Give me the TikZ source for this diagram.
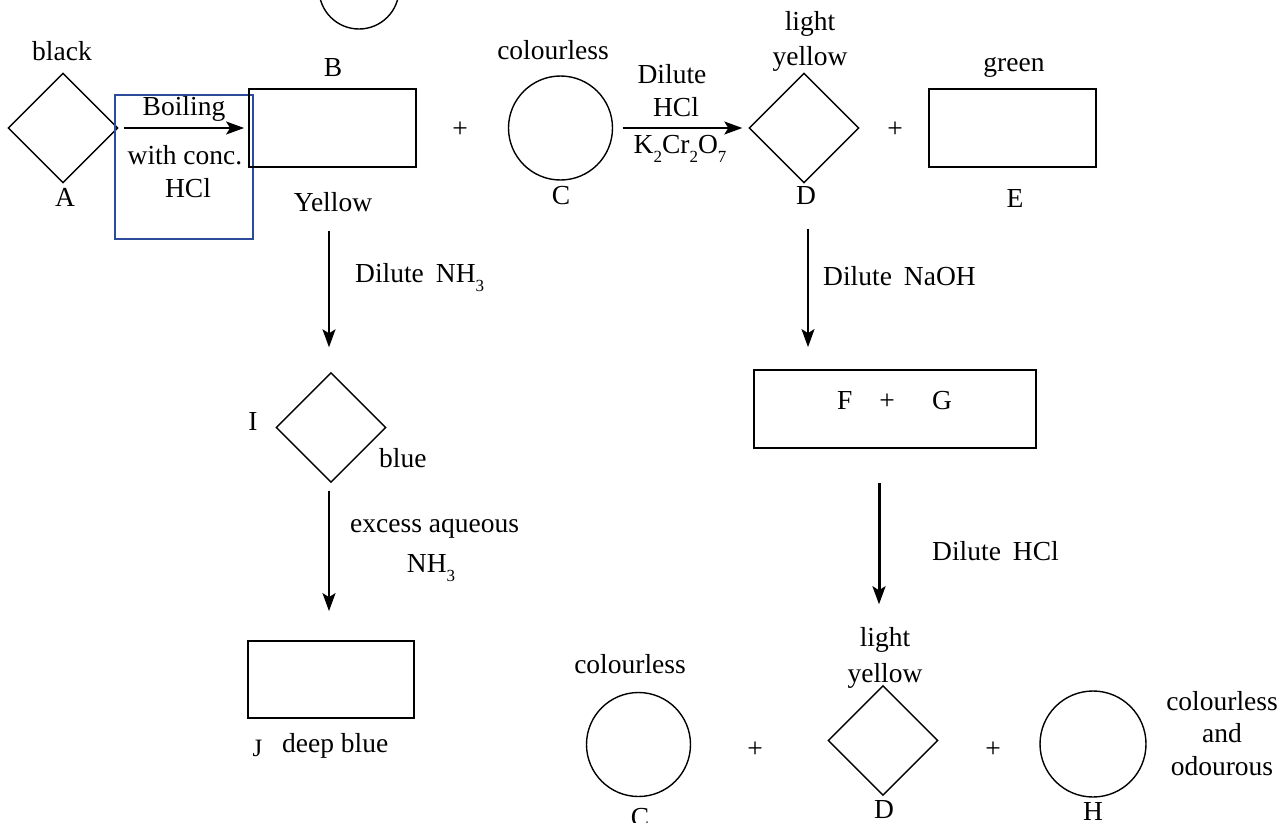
\documentclass[tikz,border=0pt]{standalone}
\usepackage{fontspec}
\setmainfont{Liberation Serif}
\usetikzlibrary{shapes.geometric,arrows.meta}
\definecolor{boxblue}{RGB}{45,75,155}
\newcommand{\chsb}[1]{\raisebox{-9pt}{\fontsize{17}{17}\selectfont #1}}
\newcommand{\wsp}{\hspace{12pt}}
\begin{document}
\begin{tikzpicture}[x=1pt,y=-1pt,
  every node/.style={font=\fontsize{27.5}{33}\selectfont},
  lbl/.style={inner sep=0pt, anchor=base},
  lblw/.style={inner sep=0pt, anchor=base west},
  dia/.style={draw, diamond, minimum width=110pt, minimum height=110pt, inner sep=0pt, line width=1.4pt},
  circ/.style={draw, circle, minimum size=104pt, inner sep=0pt, line width=1.4pt},
  box/.style={draw, rectangle, inner sep=0pt, line width=1.8pt},
  arr/.style={-{Stealth[length=18pt,width=13pt,inset=4pt]}, line width=1.8pt},
  thickarr/.style={arr, line width=3pt},
]
\clip (0,0) rectangle (1282,822);
\fill[white] (0,0) rectangle (1282,822);
% shapes
\node[circ, minimum size=80pt] (top) at (359,-11) {};
\node[dia] (A) at (63,128) {};
\node[draw=boxblue, line width=2pt, minimum width=138pt, minimum height=144pt, inner sep=0pt] (hl) at (184,167) {};
\node[box, minimum width=167pt, minimum height=78pt] (B) at (332.5,128) {};
\node[circ] (C) at (560.5,128) {};
\node[dia] (D) at (804,128) {};
\node[box, minimum width=167pt, minimum height=78pt] (E) at (1012.5,128) {};
\node[dia] (I) at (331,427.5) {};
\node[box, minimum width=166pt, minimum height=77pt] (J) at (331,679.5) {};
\node[box, minimum width=282pt, minimum height=78pt] (FG) at (895,409) {};
\node[circ] (C2) at (638.5,744.5) {};
\node[dia] (D2) at (883,740.5) {};
\node[circ, minimum size=106pt] (H) at (1093,744) {};
% arrows
\draw[arr, shorten <=5pt, shorten >=4pt] (A.east) -- (B.west);
\draw[arr, shorten <=9.5pt, shorten >=6pt] (C.east) -- (D.west);
\draw[arr, shorten <=63pt, shorten >=24.5pt] ([xshift=-3.5pt]B.south) -- ([xshift=-3.5pt]B.south |- I.north);
\draw[arr, shorten <=7.5pt, shorten >=29pt] ([xshift=-2pt]I.south) -- ([xshift=-2pt]I.south |- J.north);
\draw[arr, shorten <=45pt, shorten >=22pt] ([xshift=4pt]D.south) -- ([xshift=4pt]D.south |- FG.north);
\draw[thickarr, shorten <=34pt, shorten >=80.5pt] ([xshift=-16pt]FG.south) -- ([xshift=-16pt]FG.south |- D2.north);
% labels
\node[lbl] (tblack) at (62,60) {black};
\node[lbl] (tA) at (65,206) {A};
\node[lbl] (tboil) at (184,115) {Boiling};
\node[lbl] (twith) at (185,164) {with conc.};
\node[lbl] (thcl1) at (188,197) {HCl};
\node[lbl] (tB) at (333,76) {B};
\node[lbl] (tyel) at (333,211) {Yellow};
\node[lbl] (plus1) at (460,137) {+};
\node[lbl] (tcol1) at (553,59) {colourless};
\node[lbl] (tC) at (561,204) {C};
\node[lbl] (tdil) at (672,83) {Dilute};
\node[lbl] (thcl2) at (676,116) {HCl};
\node[lbl] (tk) at (680,153) {K\chsb{2}Cr\chsb{2}O\chsb{7}};
\node[lbl] (tlight1) at (810,30) {light};
\node[lbl] (tyell1) at (810,65) {yellow};
\node[lbl] (tD) at (806,204) {D};
\node[lbl] (plus2) at (895,137) {+};
\node[lbl] (tgreen) at (1014,71) {green};
\node[lbl] (tE) at (1015,207) {E};
\node[lblw] (tnh) at (355,282) {Dilute\wsp NH\chsb{3}};
\node[lbl] (tI) at (253,430) {I};
\node[lblw] (tblue) at (379,467) {blue};
\node[lblw] (texc) at (350,532) {excess aqueous};
\node[lbl] (tnh2) at (431,572) {NH\chsb{3}};
\node[lbl, font=\fontsize{25}{28}\selectfont] (tJ) at (257.5,756) {J};
\node[lblw] (tdeep) at (282,752) {deep blue};
\node[lblw] (tnaoh) at (823,285) {Dilute\wsp NaOH};
\node[lblw] (tF) at (837,409) {F};
\node[lbl] (tplusfg) at (887,409) {+};
\node[lblw] (tG) at (932,409) {G};
\node[lblw] (thcl3) at (932,560) {Dilute\wsp HCl};
\node[lbl] (tcol2) at (630,673) {colourless};
\node[lbl] (tC2) at (640,826) {C};
\node[lbl] (plus3) at (755,757) {+};
\node[lbl] (tlight2) at (885,646) {light};
\node[lbl] (tyell2) at (885,682) {yellow};
\node[lbl] (tD2) at (884,818) {D};
\node[lbl] (plus4) at (993,757) {+};
\node[lbl] (tH) at (1093,820) {H};
\node[lbl] (tcol3) at (1222,710) {colourless};
\node[lbl] (tand) at (1222,742) {and};
\node[lbl] (todo) at (1222,775) {odourous};
\end{tikzpicture}
\end{document}
